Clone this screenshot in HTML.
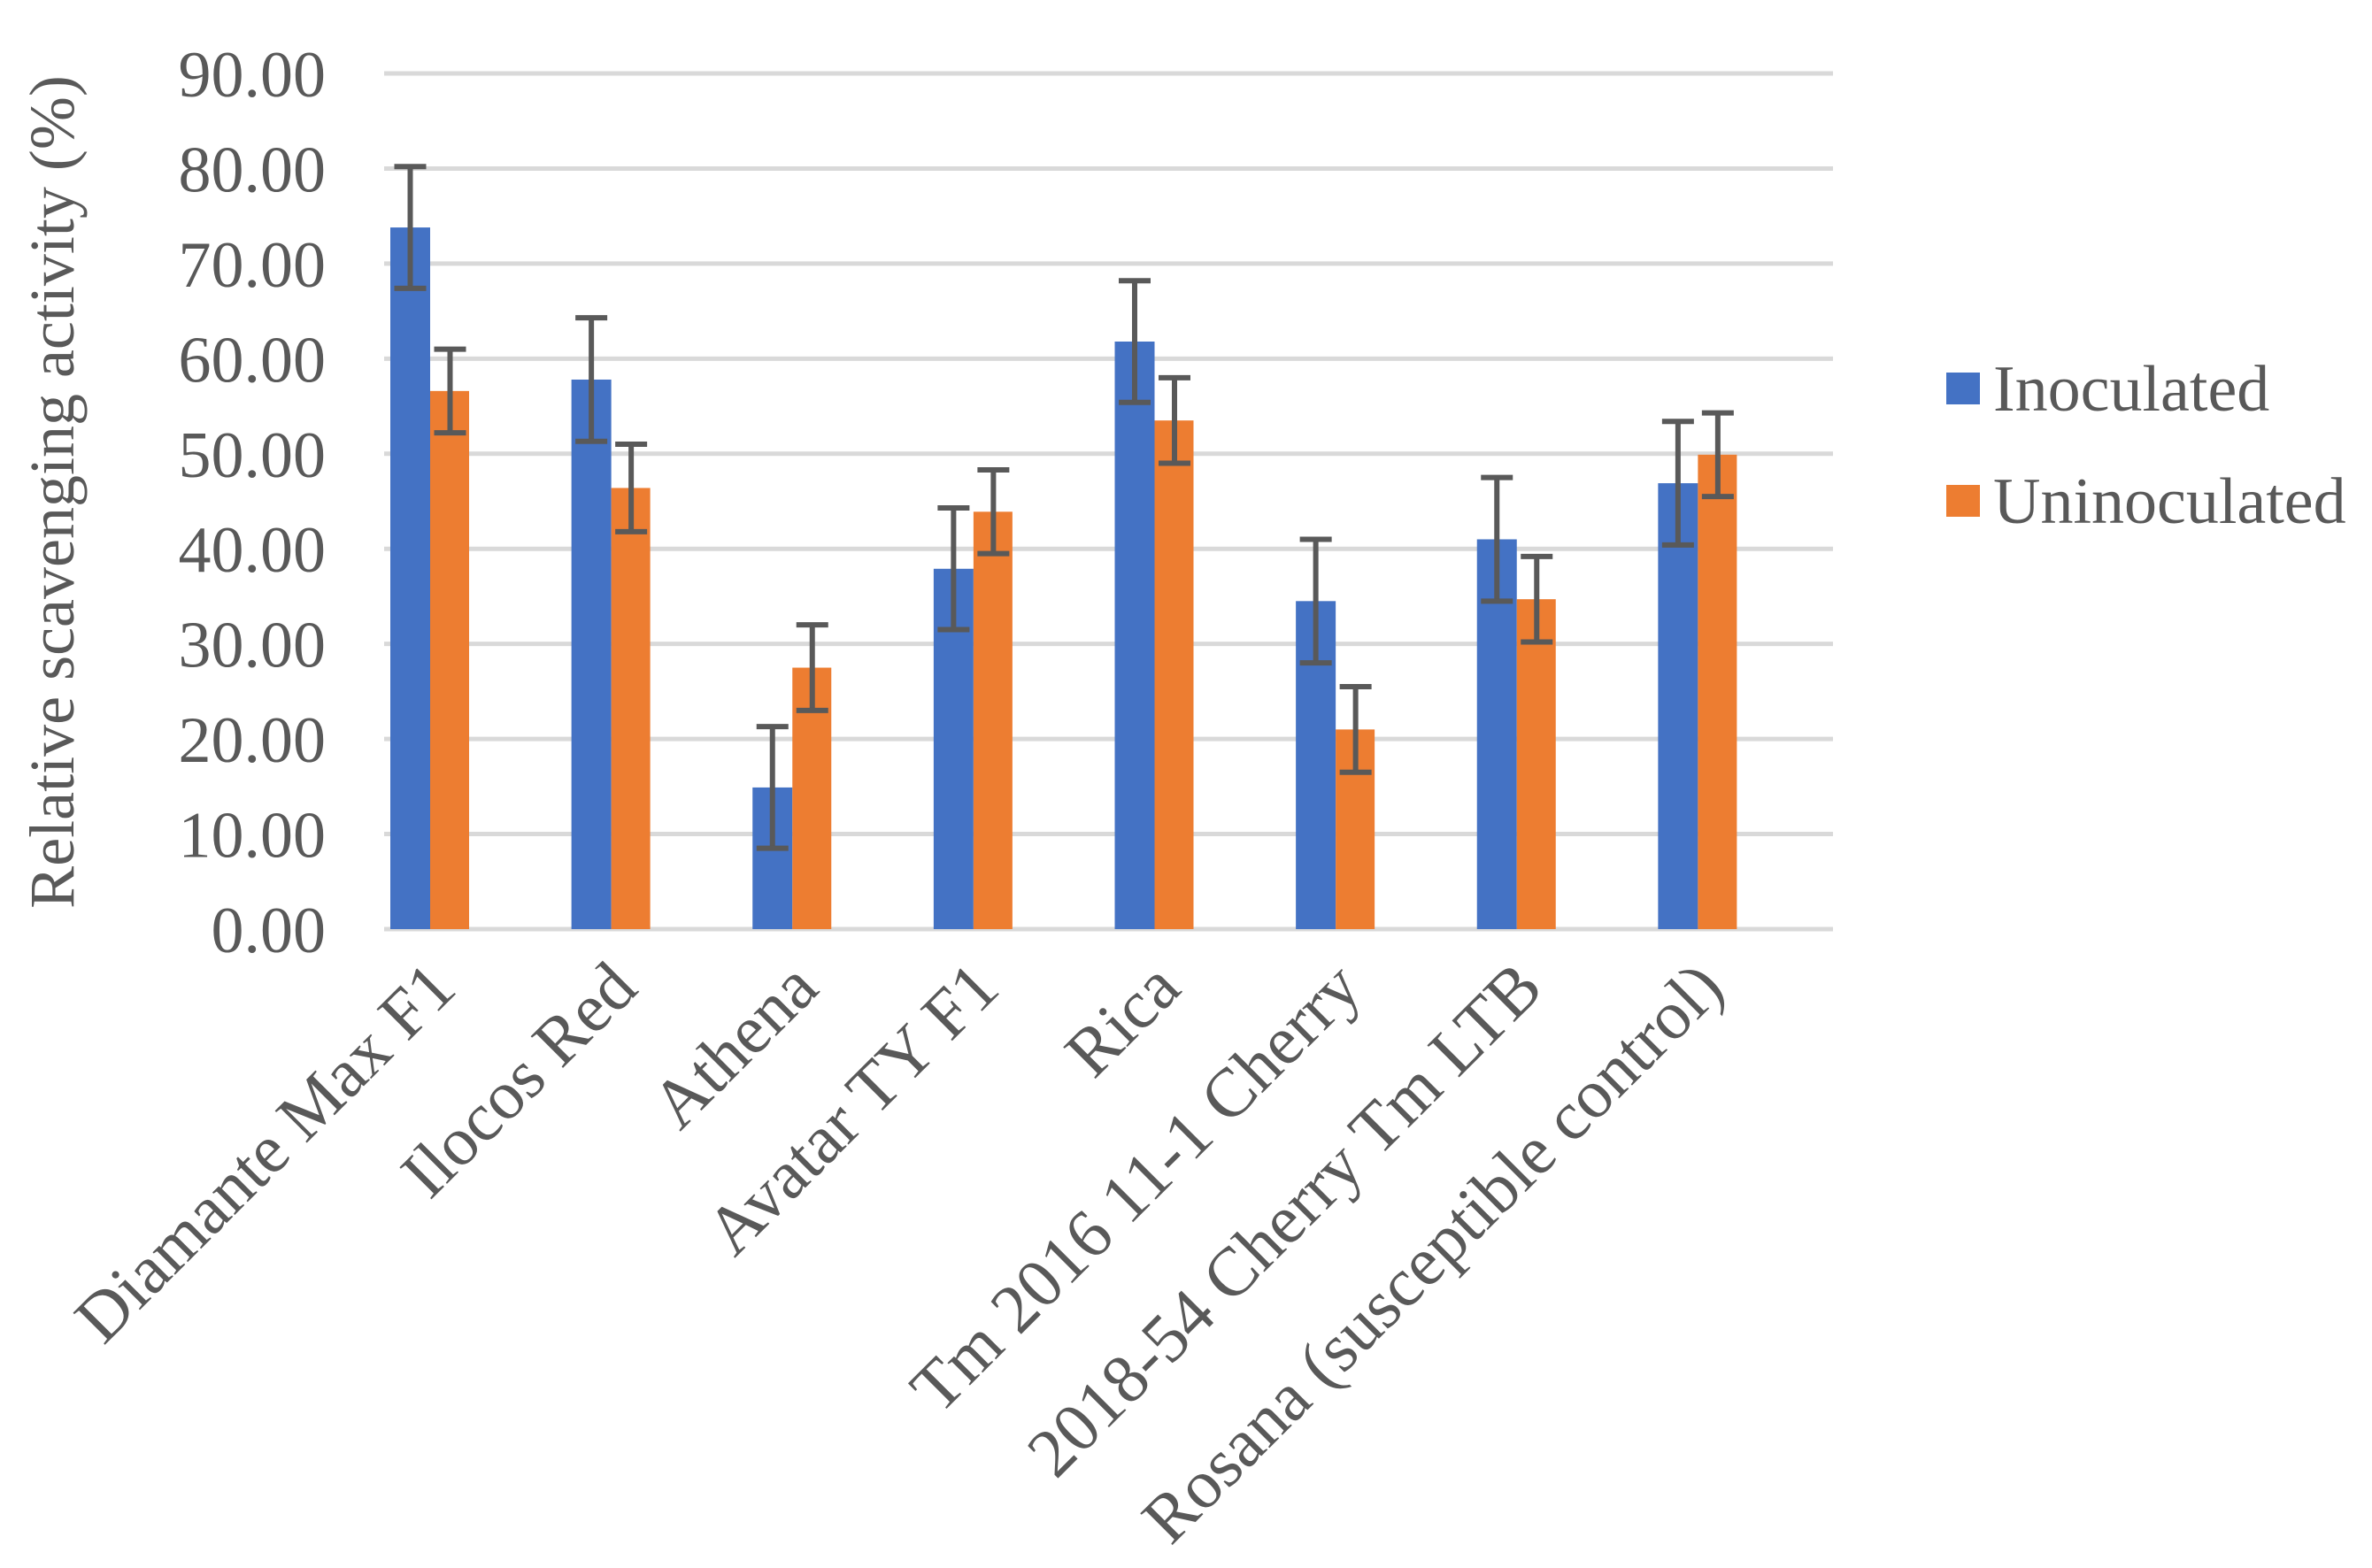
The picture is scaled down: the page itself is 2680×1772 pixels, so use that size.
<!DOCTYPE html>
<html><head><meta charset="utf-8"><style>
html,body{margin:0;padding:0;background:#fff}
svg{display:block}
text{font-family:"Liberation Serif",serif;fill:#595959}
</style></head><body>
<svg id="chart" width="2680" height="1772" viewBox="0 0 2680 1772" xmlns="http://www.w3.org/2000/svg">
<g id="grid"></g>
<g id="yticks"></g>
<g id="bars"></g>
<g id="errs"></g>
<g id="xlabels"></g>
<text transform="translate(83,556) rotate(-90)" text-anchor="middle" font-size="72">Relative scavenging activity (%)</text>
<g>
<rect x="2199" y="421" width="38" height="36" fill="#4472C4"/>
<text x="2252" y="464" font-size="74">Inoculated</text>
<rect x="2199" y="548" width="38" height="36" fill="#ED7D31"/>
<text x="2252" y="591" font-size="74">Uninoculated</text>
</g>
</svg>
<script>
const categories = ["Diamante Max F1","Ilocos Red","Athena","Avatar TY F1","Rica","Tm 2016 11-1 Cherry","2018-54 Cherry Tm LTB","Rosana (susceptible control)"];
const inoculated = [73.8,57.8,14.9,37.9,61.8,34.5,41.0,46.9];
const uninoculated = [56.6,46.4,27.5,43.9,53.5,21.0,34.7,49.9];
const inoculatedErr = [6.4,6.5,6.4,6.4,6.4,6.5,6.5,6.5];
const uninoculatedErr = [4.4,4.6,4.5,4.4,4.5,4.5,4.5,4.4];
const yTicks = [0,10,20,30,40,50,60,70,80,90];

const NS="http://www.w3.org/2000/svg";
const X0=434, X1=2071, Y0=1050, Y90=83;
const band=(X1-X0)/categories.length;
const y=v=>Y0-(v/90)*(Y0-Y90);
const bx=i=>X0+band*i;
function mk(tag,attrs,parent){const e=document.createElementNS(NS,tag);for(const k in attrs)e.setAttribute(k,attrs[k]);parent.appendChild(e);return e;}
const grid=document.getElementById('grid'),yt=document.getElementById('yticks'),bars=document.getElementById('bars'),errs=document.getElementById('errs'),xl=document.getElementById('xlabels');
yTicks.forEach(t=>{
  const l=mk('line',{x1:X0,x2:X1,y1:y(t),y2:y(t),stroke:'#D9D9D9','stroke-width':5},grid);
  
  
  const tx=mk('text',{x:368,y:y(t)+26,'text-anchor':'end','font-size':74},yt);
  tx.textContent=t.toFixed(2);
  
  
});
const BW=45;
function drawErr(cx,v,e){
  const g=mk('g',{stroke:'#595959','stroke-width':6},errs);
  
  
  mk('line',{x1:cx,x2:cx,y1:y(v+e),y2:y(v-e)},g);
  mk('line',{x1:cx-18,x2:cx+18,y1:y(v+e),y2:y(v+e)},g);
  mk('line',{x1:cx-18,x2:cx+18,y1:y(v-e),y2:y(v-e)},g);
}
categories.forEach((c,i)=>{
  const x=bx(i)+7;
  const b1=mk('rect',{x:x,y:y(inoculated[i]),width:BW,height:Y0-y(inoculated[i]),fill:'#4472C4'},bars);
  
  
  const b2=mk('rect',{x:x+BW,y:y(uninoculated[i]),width:BW-1,height:Y0-y(uninoculated[i]),fill:'#ED7D31'},bars);
  
  
  drawErr(x+BW/2,inoculated[i],inoculatedErr[i]);
  drawErr(x+BW*1.5,uninoculated[i],uninoculatedErr[i]);
  const lx=bx(i)+band/2-18, ly=Y0+70;
  const t=mk('text',{transform:`translate(${lx},${ly}) rotate(-45)`,'text-anchor':'end','font-size':78},xl);
  t.textContent=c;
  
  
});
</script>
</body></html>
